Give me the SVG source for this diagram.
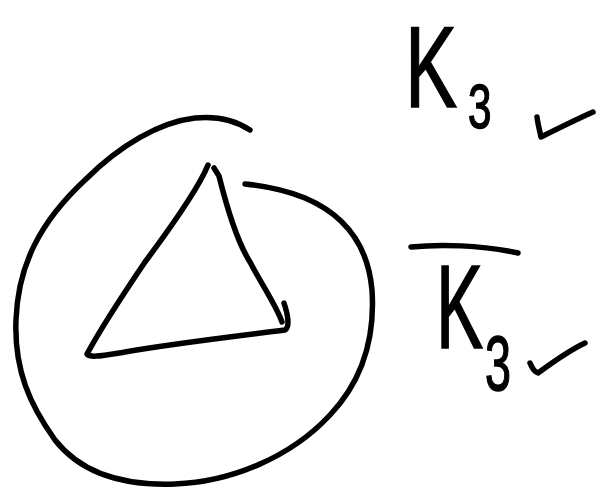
<svg xmlns="http://www.w3.org/2000/svg" width="598" height="492" viewBox="0 0 598 492">
<style>
.ink{fill:none;stroke:#000;stroke-width:5.5;stroke-linecap:round;stroke-linejoin:round}
.lbl{font-family:"Liberation Sans","DejaVu Sans",sans-serif;fill:#000;stroke:#000;stroke-width:1.5}
</style>
<rect width="598" height="492" fill="#fff"/>
<g id="circle">
<path class="ink" d="M250,130 C235,120 215,116 195,118 C160,122 120,145 85,180 C40,222 18,265 16,320 C14,370 30,405 55,440 C80,472 120,486 175,484 C230,482 290,458 330,415 C365,378 375,335 372,290 C368,245 345,215 305,198 C285,190 265,186 245,184"/>
</g>
<g id="triangle">
<path class="ink" d="M208,165 C200,185 180,215 145,262 C122,296 100,330 87,354 C90,358 100,356 125,352 C170,344 230,337 285,330 C290,327 288,315 284,303"/>
<path class="ink" d="M214,168 L219,176 C225,200 236,240 250,262 C262,285 276,305 282,322"/>
</g>
<g id="label-k3">
<text class="lbl" transform="translate(405,107) scale(0.68,1)" font-size="115">K<tspan font-size="62" dx="16" dy="21">3</tspan></text>
<path class="ink" d="M537,117 C538,125 540,132 541,137 C555,130 575,120 593,112"/>
</g>
<g id="label-k3-complement">
<path class="ink" d="M411,247 C440,244 480,245 518,253"/>
<text class="lbl" transform="translate(436,348) scale(0.6,1)" font-size="118">K<tspan font-size="78" dx="3" dy="42">3</tspan></text>
<path class="ink" d="M530,363 C532,368 535,372 538,373 C553,362 570,350 585,343"/>
</g>
</svg>
